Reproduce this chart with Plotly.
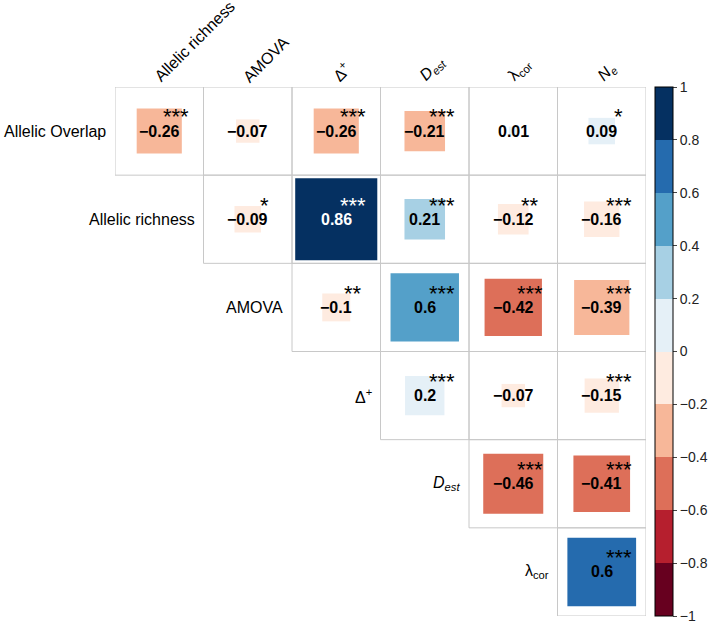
import plotly.graph_objects as go
import math

# ---- data ----
row_labels = ["Allelic Overlap", "Allelic richness", "AMOVA", "Δ<sup>+</sup>",
              "<i>D<sub>est</sub></i>", "λ<sub>cor</sub>"]
col_labels = ["Allelic richness", "AMOVA", "Δ<sup>+</sup>", "<i>D<sub>est</sub></i>",
              "λ<sub>cor</sub>", "<i>N<sub>e</sub></i>"]

# correlations per row (starting at the diagonal column of that row)
row0 = [-0.26, -0.07, -0.26, -0.21, 0.01, 0.09]
row1 = [-0.09, 0.86, 0.21, -0.12, -0.16]
row2 = [-0.10, 0.598, -0.42, -0.39]
row3 = [0.198, -0.07, -0.15]
row4 = [-0.46, -0.41]
row5 = [0.603]

sig0 = ["***", "", "***", "***", "", "*"]
sig1 = ["*", "***", "***", "**", "***"]
sig2 = ["**", "***", "***", "***"]
sig3 = ["***", "", "***"]
sig4 = ["***", "***"]
sig5 = ["***"]

rows = [row0, row1, row2, row3, row4, row5]
sigs = [sig0, sig1, sig2, sig3, sig4, sig5]

colorbar_ticks = [-1, -0.8, -0.6, -0.4, -0.2, 0, 0.2, 0.4, 0.6, 0.8, 1]

# ---- style ----
palette = ["#67001F", "#B61F2E", "#DD6F59", "#F7B799", "#FEEBE0",
           "#E5F0F7", "#A7D0E4", "#54A0C9", "#256BAE", "#053061"]
FONT = "Liberation Sans, Arial, sans-serif"
GRID = "#C8C8C8"


def bin_color(v):
    idx = int(math.floor((v + 1) / 0.2))
    idx = max(0, min(9, idx))
    return palette[idx]


def fmt(v):
    s = f"{round(v, 2):g}"
    return s.replace("-", "\u2212")


shapes = []
annotations = []
xs, ys, cs = [], [], []

for i, (vals, ss) in enumerate(zip(rows, sigs)):
    for k, (v, s) in enumerate(zip(vals, ss)):
        j = i + k
        # cell border
        shapes.append(dict(type="rect", xref="x", yref="y",
                           x0=j - 0.5, x1=j + 0.5, y0=i - 0.5, y1=i + 0.5,
                           line=dict(color=GRID, width=1), fillcolor="rgba(0,0,0,0)",
                           layer="below"))
        half = math.sqrt(abs(v)) / 2
        shapes.append(dict(type="rect", xref="x", yref="y",
                           x0=j - half, x1=j + half, y0=i - half, y1=i + half,
                           line=dict(width=0), fillcolor=bin_color(v), layer="below"))
        tcol = "white" if abs(v) > 0.8 else "black"
        annotations.append(dict(x=j, y=i, xref="x", yref="y", text=fmt(v),
                                showarrow=False, xanchor="center", yanchor="middle",
                                font=dict(family=FONT, size=16, color=tcol, weight="bold")))
        if s:
            annotations.append(dict(x=j + 0.19, y=i - 0.16, xref="x", yref="y", text=s,
                                    showarrow=False, xanchor="center", yanchor="middle",
                                    font=dict(family=FONT, size=22, color=tcol)))
        xs.append(j)
        ys.append(i)
        cs.append(v)

# row labels
for i, lab in enumerate(row_labels):
    annotations.append(dict(x=i - 0.5, y=i, xref="x", yref="y", text=lab,
                            showarrow=False, xanchor="right", yanchor="middle", xshift=-7,
                            font=dict(family=FONT, size=16, color="black")))

# column labels
for j, lab in enumerate(col_labels):
    annotations.append(dict(x=j, y=-0.5, xref="x", yref="y", text=lab,
                            showarrow=False, xanchor="left", yanchor="bottom",
                            xshift=-11, yshift=-1, textangle=-45,
                            font=dict(family=FONT, size=16, color="black")))

colorscale = []
for k, c in enumerate(palette):
    colorscale.append([k / 10, c])
    colorscale.append([(k + 1) / 10, c])

fig = go.Figure()
fig.add_trace(go.Scatter(
    x=xs, y=ys, mode="markers", hoverinfo="skip", showlegend=False,
    marker=dict(color=cs, cmin=-1, cmax=1, colorscale=colorscale, opacity=0, size=1,
                showscale=True,
                colorbar=dict(x=1.017, xanchor="left", xpad=0, y=0.5, yanchor="middle",
                              len=1.0, lenmode="fraction", ypad=0, thickness=18,
                              outlinecolor="black", outlinewidth=1,
                              tickvals=colorbar_ticks,
                              ticktext=[fmt(t) for t in colorbar_ticks],
                              ticks="outside", ticklen=4, tickcolor="#444",
                              ticklabeloverflow="allow",
                              tickfont=dict(family=FONT, size=14, color="#222")))))

fig.update_layout(
    width=709, height=623,
    margin=dict(l=115, r=63, t=87, b=7, autoexpand=False),
    paper_bgcolor="white", plot_bgcolor="white",
    xaxis=dict(range=[-0.5, 5.5], visible=False, fixedrange=True),
    yaxis=dict(range=[5.5, -0.5], visible=False, fixedrange=True),
    shapes=shapes, annotations=annotations,
)

fig.write_html("out.html")
